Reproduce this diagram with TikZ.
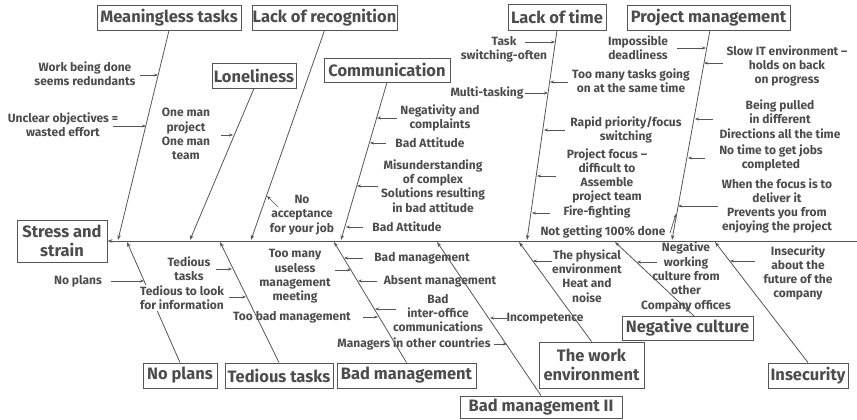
\documentclass[tikz,border=0pt]{standalone}
\usepackage{fontspec}
\setmainfont{Fira Sans}
\usetikzlibrary{arrows.meta}
\definecolor{ink}{HTML}{4C4C4C}
\definecolor{ln}{HTML}{555555}
\tikzset{
  box/.style={draw=ln, line width=0.9pt, text=ink, font=\fontsize{16.5}{18}\selectfont\bfseries, inner sep=0pt, align=center},
  lbl/.style={text=ink, font=\fontsize{12}{14.3}\selectfont\bfseries, inner sep=0.5pt, align=center},
  bone/.style={draw=ln, line width=0.8pt, -{Stealth[length=5pt,width=3.5pt]}},
  sub/.style={draw=ln, line width=0.7pt, -{Stealth[length=4pt,width=3pt]}}
}
\begin{document}
\begin{tikzpicture}[x=1pt,y=-1pt]
\useasboundingbox (0,0) rectangle (857,420);
% boxes
\node[box, minimum width=90pt, minimum height=42pt, font=\fontsize{16.5}{19}\selectfont\bfseries] (ss) at (62,241) {Stress and\\strain};
\node[box, minimum width=144pt, minimum height=25pt] (mt) at (169,17.5) {Meaningless tasks};
\node[box, minimum width=145pt, minimum height=25pt] (lr) at (324.5,17.5) {Lack of recognition};
\node[box, minimum width=98pt, minimum height=26pt] (lt) at (557,17) {Lack of time};
\node[box, minimum width=163pt, minimum height=25pt] (pm) at (708.5,17.5) {Project management};
\node[box, minimum width=84pt, minimum height=25pt] (lo) at (254,75.5) {Loneliness};
\node[box, minimum width=126pt, minimum height=24pt] (co) at (387,70) {Communication};
\node[box, minimum width=74pt, minimum height=25pt] (np) at (180,375.5) {No plans};
\node[box, minimum width=108pt, minimum height=25pt] (tt) at (279,375.5) {Tedious tasks};
\node[box, minimum width=139pt, minimum height=25pt] (bm) at (406.5,375.5) {Bad management};
\node[box, minimum width=162pt, minimum height=22pt] (b2) at (541,407) {Bad management II};
\node[box, minimum width=105pt, minimum height=46pt, font=\fontsize{16.5}{19}\selectfont\bfseries] (we) at (591.5,365) {The work\\environment};
\node[box, minimum width=131pt, minimum height=24pt] (nc) at (687.5,328) {Negative culture};
\node[box, minimum width=80pt, minimum height=25pt] (in) at (808,375.5) {Insecurity};
% spine
\coordinate (spE) at (857,241);
\draw[bone] (spE) -- (ss.east);
% bone tips and starts
\coordinate (mtT) at (118,240);
\coordinate (loT) at (190,240);
\coordinate (lrT) at (251,240);
\coordinate (coT) at (341,240);
\coordinate (ltT) at (527,240);
\coordinate (pmS) at (710,30);
\coordinate (pmT) at (672,240);
\coordinate (npT) at (127,242);
\coordinate (ttT) at (220,242);
\coordinate (bmT) at (334,242);
\coordinate (b2T) at (437,242);
\coordinate (weT) at (519,242);
\coordinate (ncS) at (694,316);
\coordinate (ncT) at (615,242);
\coordinate (inT) at (715,242);
\draw[bone] (mt.south) -- (mtT);
\draw[bone] (lo.south) -- (loT);
\draw[bone] (lr.south) -- (lrT);
\draw[bone] (co.south) -- (coT);
\draw[bone] (lt.south) -- (ltT);
\draw[bone] (pmS) -- (pmT);
% labels
\node[lbl] (l1) at (85,74) {Work being done\\seems redundants};
\node[lbl] (l2) at (63,125) {Unclear objectives =\\wasted effort};
\node[lbl] (l3) at (186,134) {One man\\project\\One man\\team};
\node[lbl] (l4) at (302,215) {No\\acceptance\\for your job};
\node[lbl] (l5) at (440,118) {Negativity and\\complaints};
\node[lbl] (l6) at (430,143) {Bad Attitude};
\node[lbl] (l7) at (433,186) {Misunderstanding\\of complex\\Solutions resulting\\in bad attitude};
\node[lbl] (l8) at (407,227) {Bad Attitude};
\node[lbl] (l9) at (504,49) {Task\\switching-often};
\node[lbl] (l10) at (487,93) {Multi-tasking};
\node[lbl] (l11) at (631,81) {Too many tasks going\\on at the same time};
\node[lbl] (l12) at (626,130) {Rapid priority/focus\\switching};
\node[lbl] (l13) at (607,176) {Project focus –\\difficult to\\Assemble\\project team};
\node[lbl] (l14) at (597,212) {Fire-fighting};
\node[lbl] (l15) at (603,232) {Not getting 100\% done};
\node[lbl] (l16) at (638,48) {Impossible\\deadliness};
\node[lbl] (l17) at (787,66) {Slow IT environment –\\holds on back\\on progress};
\node[lbl] (l18) at (780,119) {Being pulled\\in different\\Directions all the time};
\node[lbl] (l19) at (771,158) {No time to get jobs\\completed};
\node[lbl] (l20) at (777,206) {When the focus is to\\deliver it\\Prevents you from\\enjoying the project};
% lower bones and labels
\node[lbl] (l21) at (78,281) {No plans};
\node[lbl] (l22) at (189,269) {Tedious\\tasks};
\node[lbl] (l24) at (295,276.5) {Too many\\useless\\management\\meeting};
\node[lbl] (l25) at (292,317) {Too bad management};
\node[lbl] (l26) at (422,258) {Bad management};
\node[lbl] (l27) at (440,281) {Absent management};
\node[lbl] (l28) at (438,313) {Bad\\inter-office\\communications};
\node[lbl] (l29) at (414,344) {Managers in other countries};
\node[lbl] (l30) at (545,319) {Incompetence};
\node[lbl] (l31) at (587,276) {The physical\\environment\\Heat and\\noise};
\node[lbl] (l32) at (686,277) {Negative\\working\\culture from\\other\\Company offices};
\node[lbl] (l33) at (798,273) {Insecurity\\about the\\future of the\\company};
\draw[bone] (np.north) -- (npT);
\node[lbl, fill=white] (l23) at (182,298) {Tedious to look\\for information};
\draw[bone] (tt.north) -- (ttT);
\draw[bone] (bm.north) -- (bmT);
\draw[bone] (b2.north) -- (b2T);
\draw[bone] (we.north) -- (weT);
\draw[bone] (ncS) -- (ncT);
\draw[bone] (in.north) -- (inT);
% sub arrows
\foreach \a/\b/\c/\d [count=\i] in {
 140/75/158/75, 113/126/146/126, 221/135/233/135, 278/207/267/196,
 397/118/377/118, 386/143/370/143, 378/186/357/186, 363/227/346/227,
 525/42/555/42, 525/93/548/93, 568/82/550/82, 565/130/544/130,
 556/176/537/176, 550/213/532/213, 670/233/676/214, 677/48/706/48,
 723/63/704/63, 713/119/695/119, 705/158/688/158, 718/206/678/206,
 111/281/144/281, 216/269/232/269, 229/297/246/297, 335/270/351/270,
 363/317/378/317, 363/258/344/258, 377/281/358/281, 396/309/375/309,
 494/344/507/344, 507/318/490/318, 552/261/533/261, 657/262/637/262,
 755/261/730/261}{
  \coordinate (s\i) at (\a,\b);
  \coordinate (e\i) at (\c,\d);
  \draw[sub] (s\i) -- (e\i);
}
\end{tikzpicture}
\end{document}
